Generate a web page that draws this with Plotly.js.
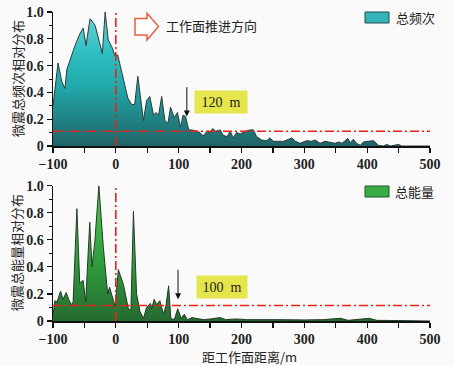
<!DOCTYPE html>
<html><head><meta charset="utf-8">
<script src="https://cdn.plot.ly/plotly-3.0.1.min.js"></script>
<style>html,body{margin:0;padding:0;background:#fafafa;}</style>
</head><body><div id="chart" style="width:454px;height:366px;"></div>
<script>
// ---- data ----
const freqX = [-100,-92,-86,-81,-78,-73,-65,-57,-52,-47.5,-41,-33,-28,-21.5,-17,-12,-6.5,-1,3,7,12,19,25,30,35,40,44,49,54,60,64,68,73,78,83,87,93,98,103,107,111,116,121,129,134,139,145,150,154,159,166,171,177,182,187,192,198,206,214,219,224,232,240,245,251,259,267,275,280,286,293,304,312,317,325,333,341,349,354,360,365,369,373,378,383,389,394,402,410,418,426,431,437,450,455,462,500];
const freqY = [0.30,0.62,0.48,0.43,0.57,0.64,0.75,0.84,0.88,0.75,0.95,0.90,0.80,0.69,1.00,0.79,0.74,0.67,0.68,0.60,0.52,0.36,0.31,0.31,0.52,0.32,0.19,0.34,0.37,0.23,0.25,0.23,0.37,0.19,0.17,0.29,0.21,0.25,0.14,0.23,0.22,0.12,0.12,0.11,0.10,0.075,0.11,0.10,0.13,0.11,0.12,0.08,0.07,0.11,0.06,0.10,0.09,0.11,0.12,0.12,0.07,0.045,0.04,0.06,0.035,0.035,0.035,0.05,0.06,0.035,0.02,0.04,0.035,0.045,0.02,0.035,0.025,0.02,0.03,0.02,0.04,0.057,0.025,0.05,0.02,0.005,0.03,0.035,0.04,0.005,0,0.012,0,0.012,0,0,0];

const energyX = [-100,-97,-93.5,-88,-84,-79,-75,-71,-68,-62,-57.5,-52,-48,-41.5,-38,-33.5,-27,-20,-13,-10,-5,-1,4,12,16,20,24,28,33,38.5,44,49,55,57,61,65,70,76,80,84,87.5,93,98.5,104,109,114,121,131,140,150,166,175,190,210,230,260,300,330,357,370,403,415,450,500];
const energyY = [0.04,0.15,0.14,0.22,0.16,0.21,0.16,0.12,0.14,0.83,0.28,0.30,0.14,0.73,0.40,0.58,1.00,0.55,0.20,0.25,0.17,0.11,0.38,0.27,0.18,0.09,0.08,0.81,0.20,0.07,0.02,0.10,0.13,0.09,0.16,0.12,0.15,0.05,0.12,0.26,0.02,0.01,0.09,0.02,0.05,0.01,0.025,0.015,0.01,0.015,0.025,0.01,0.015,0.01,0.008,0.01,0.008,0.01,0.02,0.005,0.02,0.005,0.003,0];

const xRange = [-100, 500];
const yRange = [0, 1];
const thresholds = [0.11, 0.115];          // red dash-dot level, top / bottom
const faceX = 0;                           // working face position
const markerX = [113, 99];                 // arrow positions
const markerLabels = ['120&nbsp;&nbsp;m', '100&nbsp;&nbsp;m'];
const seriesNames = ['总频次', '总能量'];
const yTitles = ['微震总频次相对分布', '微震总能量相对分布'];
const xTitle = '距工作面距离/m';
const directionText = '工作面推进方向';
const yTickVals = [0, 0.2, 0.4, 0.6, 0.8, 1.0];
const yTickText = ['0', '0.2', '0.4', '0.6', '0.8', '1.0'];

// ---- layout helpers ----
const W = 454, H = 366, ML = 53, MR = 24, MT = 12, MB = 45;
const PW = W - ML - MR, PH = H - MT - MB;
const px = x => (x - ML) / PW;
const py = y => (H - MB - y) / PH;

const red = '#e8231c';
const cjk = '"Noto Sans CJK SC", "Noto Sans CJK JP", sans-serif';
const num = '"Liberation Serif", "DejaVu Serif", serif';
const dashStyle = '9px,3px,2px,3px';

const traces = [
  {x: freqX, y: freqY, xaxis: 'x', yaxis: 'y', type: 'scatter', mode: 'lines', name: seriesNames[0],
   line: {color: '#2a3b3b', width: 1}, fill: 'tozeroy',
   fillgradient: {type: 'vertical', start: 0, stop: 1,
     colorscale: [[0, '#1f6466'], [0.45, '#21a9aa'], [0.7, '#2fbfc2'], [1, '#6fd3d6']]},
   showlegend: false, hoverinfo: 'skip'},
  {x: energyX, y: energyY, xaxis: 'x2', yaxis: 'y2', type: 'scatter', mode: 'lines', name: seriesNames[1],
   line: {color: '#243a26', width: 1}, fill: 'tozeroy',
   fillgradient: {type: 'vertical', start: 0, stop: 1,
     colorscale: [[0, '#256a30'], [0.45, '#30a03e'], [1, '#52c452']]},
   showlegend: false, hoverinfo: 'skip'},
  {x: xRange, y: [thresholds[0], thresholds[0]], xaxis: 'x', yaxis: 'y', mode: 'lines',
   line: {color: red, width: 1.6, dash: dashStyle}, showlegend: false, hoverinfo: 'skip'},
  {x: xRange, y: [thresholds[1], thresholds[1]], xaxis: 'x2', yaxis: 'y2', mode: 'lines',
   line: {color: red, width: 1.6, dash: dashStyle}, showlegend: false, hoverinfo: 'skip'},
  {x: [faceX, faceX], y: yRange, xaxis: 'x', yaxis: 'y', mode: 'lines',
   line: {color: red, width: 1.6, dash: dashStyle}, showlegend: false, hoverinfo: 'skip'},
  {x: [faceX, faceX], y: yRange, xaxis: 'x2', yaxis: 'y2', mode: 'lines',
   line: {color: red, width: 1.6, dash: dashStyle}, showlegend: false, hoverinfo: 'skip'}
];

const tickFont = {family: num, size: 14, color: '#222', weight: 'bold'};
function xAxis(anchor) {
  return {anchor: anchor, domain: [0, 1], range: xRange, showgrid: false, zeroline: false,
    showline: true, linecolor: '#111', linewidth: 1.5, ticks: 'outside', ticklen: 5, tickwidth: 1.2,
    tickcolor: '#111', dtick: 100, tick0: 0,
    minor: {dtick: 50, ticks: 'outside', ticklen: 5, tickwidth: 1.2, tickcolor: '#111'},
    tickfont: tickFont};
}
function yAxis(anchor, domain) {
  return {anchor: anchor, domain: domain, range: yRange, showgrid: false, zeroline: false,
    showline: true, linecolor: '#111', linewidth: 1.5, ticks: 'outside', ticklen: 5, tickwidth: 1.2,
    tickcolor: '#111', tickvals: yTickVals, ticktext: yTickText,
    minor: {tickvals: [0.1, 0.3, 0.5, 0.7, 0.9], ticks: 'outside', ticklen: 3, tickwidth: 1, tickcolor: '#111'},
    tickfont: tickFont};
}

const topY = [py(146), 1], botY = [0, py(185.7)];

// hollow arrow (direction of advance), pixel -> paper
const arrowPts = [[135,18.5],[147,18.5],[147,13.3],[158.5,26.5],[147,40],[147,35],[135,35]];
const arrowPath = 'M' + arrowPts.map(p => px(p[0]) + ',' + py(p[1])).join(' L') + ' Z';

const shapes = [
  {type: 'path', xref: 'paper', yref: 'paper', path: arrowPath, line: {color: '#e8603c', width: 1.5}, fillcolor: '#ffffff'},
  {type: 'rect', xref: 'paper', yref: 'paper', x0: px(365), x1: px(389), y0: py(23), y1: py(12),
   line: {color: '#1f4f50', width: 1}, fillcolor: '#33b5b8'},
  {type: 'rect', xref: 'paper', yref: 'paper', x0: px(365), x1: px(389), y0: py(197), y1: py(186),
   line: {color: '#24552a', width: 1}, fillcolor: '#3aae44'}
];

const titleFont = {family: cjk, size: 13, color: '#222'};
const annotations = [
  // axis titles
  {xref: 'paper', yref: 'paper', x: px(17), y: py(79), xanchor: 'center', yanchor: 'middle', showarrow: false,
   textangle: -90, text: yTitles[0], font: titleFont},
  {xref: 'paper', yref: 'paper', x: px(17), y: py(253), xanchor: 'center', yanchor: 'middle', showarrow: false,
   textangle: -90, text: yTitles[1], font: titleFont},
  {xref: 'paper', yref: 'paper', x: px(249), y: py(356), xanchor: 'center', yanchor: 'middle', showarrow: false,
   text: xTitle, font: titleFont, borderpad: 0},
  {xref: 'paper', yref: 'paper', x: px(164), y: py(25), xanchor: 'left', yanchor: 'middle', showarrow: false,
   text: directionText, font: titleFont},
  {xref: 'paper', yref: 'paper', x: px(394), y: py(17.5), xanchor: 'left', yanchor: 'middle', showarrow: false,
   text: seriesNames[0], font: titleFont},
  {xref: 'paper', yref: 'paper', x: px(393), y: py(191.5), xanchor: 'left', yanchor: 'middle', showarrow: false,
   text: seriesNames[1], font: titleFont},
  // label boxes
  {xref: 'x', yref: 'y', x: 167.5, y: 0.33, showarrow: false, text: markerLabels[0],
   bgcolor: '#e5e54c', width: 48, height: 18, borderpad: 2, font: {family: num, size: 14, color: '#222'}},
  {xref: 'x2', yref: 'y2', x: 169, y: 0.253, showarrow: false, text: markerLabels[1],
   bgcolor: '#e5e54c', width: 46, height: 18, borderpad: 2, font: {family: num, size: 14, color: '#222'}},
  // down arrows
  {xref: 'x', yref: 'y', x: markerX[0], y: 0.22, axref: 'x', ayref: 'y', ax: markerX[0], ay: 0.45,
   showarrow: true, arrowhead: 2, arrowsize: 1.2, arrowwidth: 1, arrowcolor: '#111', text: ''},
  {xref: 'x2', yref: 'y2', x: markerX[1], y: 0.16, axref: 'x2', ayref: 'y2', ax: markerX[1], ay: 0.39,
   showarrow: true, arrowhead: 2, arrowsize: 1.2, arrowwidth: 1, arrowcolor: '#111', text: ''}
];

const layout = {
  width: W, height: H, margin: {l: ML, r: MR, t: MT, b: MB},
  paper_bgcolor: '#fafafa', plot_bgcolor: '#fafafa',
  xaxis: xAxis('y'), yaxis: yAxis('x', topY),
  xaxis2: xAxis('y2'), yaxis2: yAxis('x2', botY),
  shapes: shapes, annotations: annotations, showlegend: false
};

Plotly.newPlot('chart', traces, layout, {displayModeBar: false, staticPlot: true});
</script></body></html>
